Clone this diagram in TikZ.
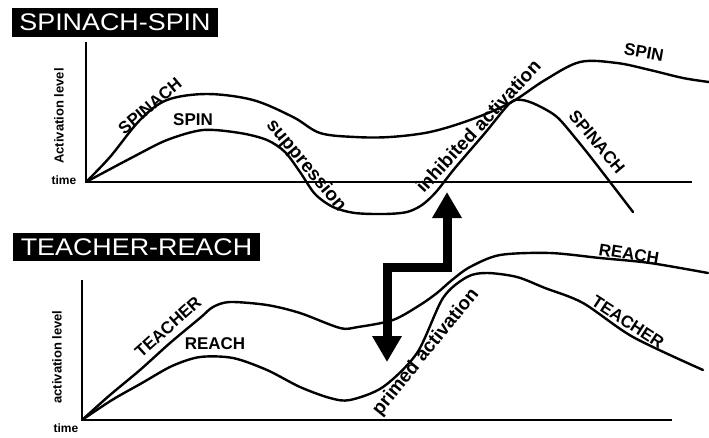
\documentclass[tikz,border=0pt]{standalone}
\usepackage{fontspec}
\setmainfont{Liberation Sans}
\usetikzlibrary{arrows.meta}
\begin{document}
\begin{tikzpicture}[x=1pt,y=-1pt,
  curve/.style={line width=2.4pt, line join=round, line cap=round},
  axisline/.style={line width=1.8pt},
  lbl/.style={font=\fontsize{17}{17}\selectfont\bfseries, inner sep=0pt},
  clbl/.style={font=\fontsize{19}{19}\selectfont\bfseries, inner sep=0pt},
  axlbl/.style={font=\fontsize{13}{13}\selectfont\bfseries, inner sep=0pt},
  titlebox/.style={fill=black, text=white, inner sep=0pt, font=\fontsize{24}{24}\selectfont},
  bigarrow/.style={line width=9pt, line join=miter, {Triangle[width=28pt,length=26pt]}-{Triangle[width=28pt,length=26pt]}}
]
\useasboundingbox (0,0) rectangle (709,437);

% ---------- top panel ----------
\node[titlebox, minimum width=206pt, minimum height=29pt] (t1) at (115,22.5) {\scalebox{1.12}[1]{SPINACH-SPIN}};
\coordinate (o1) at (86,182);
\coordinate (y1) at (86,42);
\coordinate (x1) at (692,182);
\draw[axisline] (y1) -- (o1) -- (x1);
\node[axlbl, rotate=90] (al1) at (59,116) {Activation level};
\node[axlbl, font=\fontsize{12}{12}\selectfont\bfseries] (tm1) at (64,180) {time};

% SPINACH (left) -> SPIN (right)
\draw[curve] plot[smooth, tension=0.55] coordinates {
 (86,182) (110,157) (140,120) (167,100) (207,94) (253,100) (293,117) (320,133)
 (355,137) (390,137) (430,132) (470,120) (510,103) (545,80) (580,62) (617,63)
 (650,70) (683,78) (709,82)};
% SPIN (left) -> SPINACH (right)
\draw[curve] plot[smooth, tension=0.5] coordinates {
 (86,182) (133,157) (167,140) (203,130) (240,133) (267,140) (285,152) (300,172)
 (315,194) (333,207) (355,213) (385,214) (407,212) (422,205) (436,192) (455,168)
 (485,133) (510,103) (522,100) (537,105) (557,117) (577,140) (593,160) (610,182) (633,212)};

\node[lbl, rotate=40] (l1) at (150,106) {SPINACH};
\node[lbl] (l2) at (193,120) {SPIN};
\node[lbl, rotate=-10] (l3) at (644,52) {SPIN};
\node[lbl, rotate=-50] (l4) at (597,142) {SPINACH};
\node[clbl, rotate=-50] (l5) at (306,166) {suppression};
\node[clbl, rotate=47] (l6) at (478,126) {inhibited activation};

% ---------- bottom panel ----------
\node[titlebox, minimum width=247pt, minimum height=28pt] (t2) at (136.5,247) {\scalebox{1.12}[1]{TEACHER-REACH}};
\coordinate (o2) at (82,420);
\coordinate (y2) at (82,280);
\coordinate (x2) at (672,420);
\draw[axisline] (y2) -- (o2) -- (x2);
\node[axlbl, rotate=90] (al2) at (57,357) {activation level};
\node[axlbl, font=\fontsize{12}{12}\selectfont\bfseries] (tm2) at (66,428) {time};

% TEACHER (left) -> REACH (right)
\draw[curve] plot[smooth, tension=0.5] coordinates {
 (82,420) (110,395) (140,370) (170,343) (200,318) (213,307) (230,302) (267,305)
 (300,313) (340,328) (358,327) (393,320) (420,305) (437,293) (452,280) (470,267)
 (500,255) (550,253) (600,258) (650,263) (708,273)};
% REACH (left) -> TEACHER (right)
\draw[curve] plot[smooth, tension=0.5] coordinates {
 (82,420) (112,400) (142,383) (172,366) (200,357) (233,358) (267,370) (300,387) (330,398)
 (350,400) (383,387) (417,353) (443,298) (467,277) (487,273) (517,277) (545,288)
 (583,303) (633,337) (703,370)};

\node[lbl, rotate=42] (l7) at (168,327) {TEACHER};
\node[lbl] (l8) at (215,344) {REACH};
\node[lbl, rotate=-9] (l9) at (629,254) {REACH};
\node[lbl, rotate=-33] (l10) at (628,322) {TEACHER};
\node[clbl, rotate=51] (l11) at (426,352) {primed activation};

% ---------- double arrow ----------
\coordinate (aup) at (447,192);
\coordinate (ac1) at (447,267);
\coordinate (ac2) at (387,267);
\coordinate (adn) at (387,362);
\draw[bigarrow] (aup) -- (ac1) -- (ac2) -- (adn);
\end{tikzpicture}
\end{document}
